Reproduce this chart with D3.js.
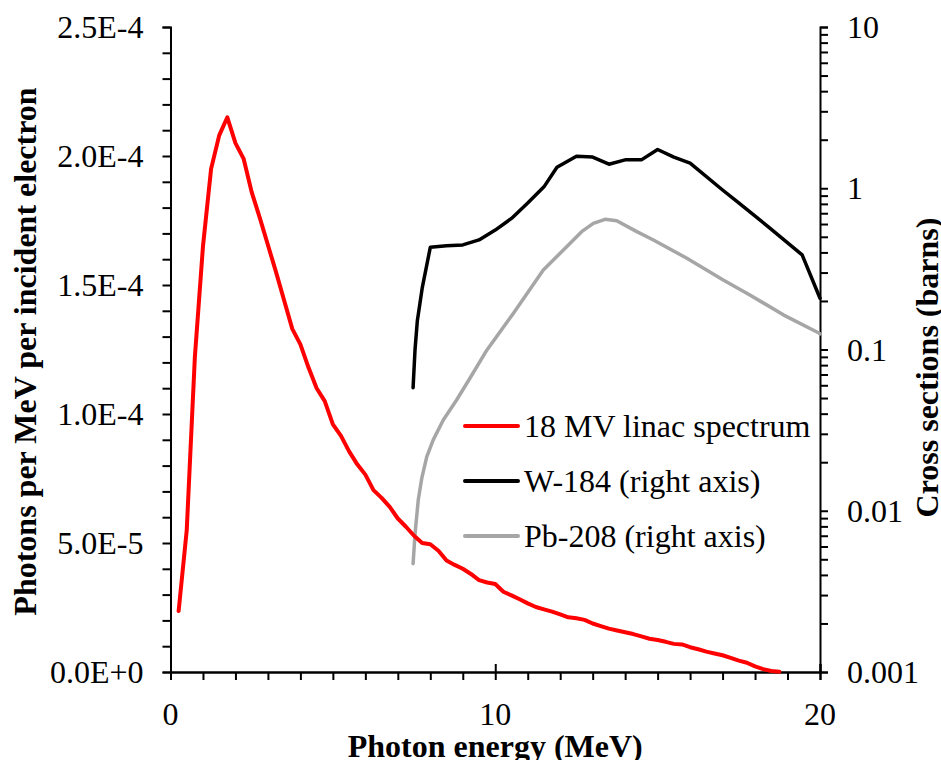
<!DOCTYPE html>
<html>
<head>
<meta charset="utf-8">
<script src="https://cdn.jsdelivr.net/npm/d3@7"></script>
<style>
  body { margin: 0; background: #fff; }
  svg text { font-family: "Liberation Serif", "Times New Roman", serif; fill: #000; }
</style>
</head>
<body>
<div id="chart"></div>
<script>
// 18 MV linac spectrum (photons per MeV per incident electron, x1e-5)
const linacEnergy = [0.25, 0.5, 0.75, 1.0, 1.25, 1.5, 1.75, 2.0, 2.25, 2.5, 2.75, 3.0, 3.25, 3.5, 3.75, 4.0, 4.25, 4.5, 4.75,
  5.0, 5.25, 5.5, 5.75, 6.0, 6.25, 6.5, 6.75, 7.0, 7.25, 7.5, 7.75, 8.0, 8.25, 8.5, 8.75, 9.0, 9.25, 9.5, 9.75,
  10.0, 10.25, 10.5, 10.75, 11.0, 11.25, 11.5, 11.75, 12.0, 12.25, 12.5, 12.75, 13.0, 13.25, 13.5, 13.75, 14.0, 14.25, 14.5, 14.75,
  15.0, 15.25, 15.5, 15.75, 16.0, 16.25, 16.5, 16.75, 17.0, 17.25, 17.5, 17.75, 18.0, 18.25, 18.5, 18.75];
const linacFlux = [2.36, 5.5, 12.2, 16.5, 19.5, 20.8, 21.5, 20.5, 19.9, 18.6, 17.6, 16.55, 15.5, 14.4, 13.3, 12.7, 11.8, 11.0, 10.5,
  9.6, 9.15, 8.55, 8.05, 7.65, 7.05, 6.75, 6.4, 5.95, 5.63, 5.28, 5.0, 4.95, 4.7, 4.32, 4.15, 4.0, 3.8, 3.56, 3.47,
  3.41, 3.11, 2.97, 2.82, 2.66, 2.52, 2.43, 2.34, 2.23, 2.12, 2.08, 2.02, 1.88, 1.78, 1.68, 1.61, 1.54, 1.47, 1.38, 1.29,
  1.24, 1.17, 1.09, 1.07, 0.96, 0.88, 0.79, 0.72, 0.65, 0.55, 0.44, 0.36, 0.22, 0.11, 0.04, 0.01].map(v => v * 1e-5);

// W-184 photonuclear cross section (barns)
const wEnergy = [7.47, 7.53, 7.6, 7.75, 8.0, 8.5, 9.0, 9.5, 10.0, 10.5, 11.0, 11.5, 11.9, 12.5, 13.0, 13.5, 14.0, 14.5, 15.0, 15.5, 16.0, 17.0, 17.45, 18.4, 19.45, 20.0];
const wSigma = [0.058, 0.10, 0.15, 0.24, 0.43, 0.44, 0.445, 0.478, 0.55, 0.65, 0.81, 1.02, 1.35, 1.58, 1.56, 1.41, 1.50, 1.50, 1.74, 1.56, 1.43, 0.975, 0.826, 0.578, 0.386, 0.208];

// Pb-208 photonuclear cross section (barns)
const pbEnergy = [7.47, 7.53, 7.63, 7.74, 7.89, 8.09, 8.4, 8.81, 9.22, 9.74, 10.56, 11.48, 12.2, 12.66, 13.02, 13.38, 13.74, 14.36, 14.87, 15.9, 17.02, 17.84, 18.87, 19.95, 20.0];
const pbSigma = [0.0047, 0.0072, 0.0117, 0.016, 0.0216, 0.0275, 0.0365, 0.0486, 0.0663, 0.099, 0.168, 0.311, 0.434, 0.538, 0.606, 0.642, 0.629, 0.538, 0.478, 0.368, 0.270, 0.218, 0.164, 0.127, 0.125];

const seriesNames = ["18 MV linac spectrum", "W-184 (right axis)", "Pb-208 (right axis)"];
const seriesColors = ["#ff0000", "#000000", "#a6a6a6"];

const leftTicks = [0, 5e-5, 1e-4, 1.5e-4, 2e-4, 2.5e-4];
const leftTickLabels = ["0.0E+0", "5.0E-5", "1.0E-4", "1.5E-4", "2.0E-4", "2.5E-4"];
const rightTicks = [0.001, 0.01, 0.1, 1, 10];
const rightTickLabels = ["0.001", "0.01", "0.1", "1", "10"];
const xTicks = [0, 10, 20];

const width = 941, height = 760;
const margin = { top: 27, right: 121, bottom: 88, left: 170.5 };
const plotW = width - margin.left - margin.right;
const plotH = height - margin.top - margin.bottom;
const fontSize = 32;

const svg = d3.select("#chart").append("svg")
  .attr("width", width)
  .attr("height", height);

const g = svg.append("g").attr("transform", `translate(${margin.left},${margin.top})`);

const x = d3.scaleLinear().domain([0, 20]).range([0, plotW]);
const yL = d3.scaleLinear().domain([0, 2.5e-4]).range([plotH, 0]);
const yR = d3.scaleLog().domain([0.001, 10]).range([plotH, 0]);

// x axis: minor ticks every 1 MeV, major ticks cross the axis
const xAxis = g.append("g").attr("transform", `translate(0,${plotH})`);
xAxis.call(d3.axisBottom(x).tickValues(d3.range(0, 21, 1)).tickSize(8).tickFormat(""));
xAxis.append("g").call(d3.axisTop(x).tickValues(xTicks).tickSize(8).tickFormat(""));
xAxis.selectAll("path").attr("stroke-width", 2);
xAxis.selectAll("line").attr("stroke-width", 2);
xAxis.selectAll(".xlab").data(xTicks).join("text")
  .attr("x", d => x(d)).attr("y", 53)
  .attr("text-anchor", "middle").attr("font-size", fontSize)
  .text(d => d);

// left axis
const leftAxis = g.append("g")
  .call(d3.axisLeft(yL).tickValues(d3.range(0, 26).map(i => i * 1e-5)).tickSize(8).tickFormat(""));
leftAxis.selectAll("path, line").attr("stroke-width", 2);
leftAxis.selectAll(".ylab").data(leftTicks).join("text")
  .attr("x", -27).attr("y", d => yL(d)).attr("dy", "0.35em")
  .attr("text-anchor", "end").attr("font-size", fontSize)
  .text((d, i) => leftTickLabels[i]);

// right axis (log)
const rightMinor = [];
rightTicks.slice(0, -1).forEach(t => { for (let k = 1; k <= 9; k++) rightMinor.push(t * k); });
rightMinor.push(10);
const rightAxis = g.append("g").attr("transform", `translate(${plotW},0)`)
  .call(d3.axisRight(yR).tickValues(rightMinor).tickSize(8).tickFormat(""));
rightAxis.selectAll("path, line").attr("stroke-width", 2);
rightAxis.selectAll(".rlab").data(rightTicks).join("text")
  .attr("x", 27).attr("y", d => yR(d)).attr("dy", "0.35em")
  .attr("text-anchor", "start").attr("font-size", fontSize)
  .text((d, i) => rightTickLabels[i]);

// lines
const linacLine = d3.line().x((d, i) => x(linacEnergy[i])).y(d => yL(d));
const logLine = (energies) => d3.line().x((d, i) => x(energies[i])).y(d => yR(d));

g.append("path").datum(pbSigma)
  .attr("d", logLine(pbEnergy))
  .attr("fill", "none").attr("stroke", seriesColors[2]).attr("stroke-width", 3.5)
  .attr("stroke-linejoin", "round").attr("stroke-linecap", "round");
g.append("path").datum(wSigma)
  .attr("d", logLine(wEnergy))
  .attr("fill", "none").attr("stroke", seriesColors[1]).attr("stroke-width", 3.5)
  .attr("stroke-linejoin", "round").attr("stroke-linecap", "round");
g.append("path").datum(linacFlux)
  .attr("d", linacLine)
  .attr("fill", "none").attr("stroke", seriesColors[0]).attr("stroke-width", 4)
  .attr("stroke-linejoin", "round").attr("stroke-linecap", "round");

// legend
const legend = svg.append("g").attr("transform", "translate(465,426)");
seriesNames.forEach((name, i) => {
  const row = legend.append("g").attr("transform", `translate(0,${i * 55})`);
  row.append("line").attr("x1", 0).attr("x2", 53).attr("y1", 0).attr("y2", 0)
    .attr("stroke", seriesColors[i]).attr("stroke-width", 4).attr("stroke-linecap", "round");
  row.append("text").attr("x", 59).attr("y", 0).attr("dy", "0.33em")
    .attr("font-size", fontSize).text(name);
});

// axis titles
svg.append("text")
  .attr("x", margin.left + plotW / 2).attr("y", 757)
  .attr("text-anchor", "middle").attr("font-size", fontSize).attr("font-weight", "bold")
  .text("Photon energy (MeV)");
svg.append("text")
  .attr("transform", `translate(36,${margin.top + plotH / 2 + 2}) rotate(-90)`)
  .attr("text-anchor", "middle").attr("font-size", fontSize).attr("font-weight", "bold")
  .text("Photons per MeV per incident electron");
svg.append("text")
  .attr("transform", `translate(938,${margin.top + plotH / 2 + 18}) rotate(-90)`)
  .attr("text-anchor", "middle").attr("font-size", fontSize).attr("font-weight", "bold")
  .text("Cross sections (barns)");
</script>
</body>
</html>
